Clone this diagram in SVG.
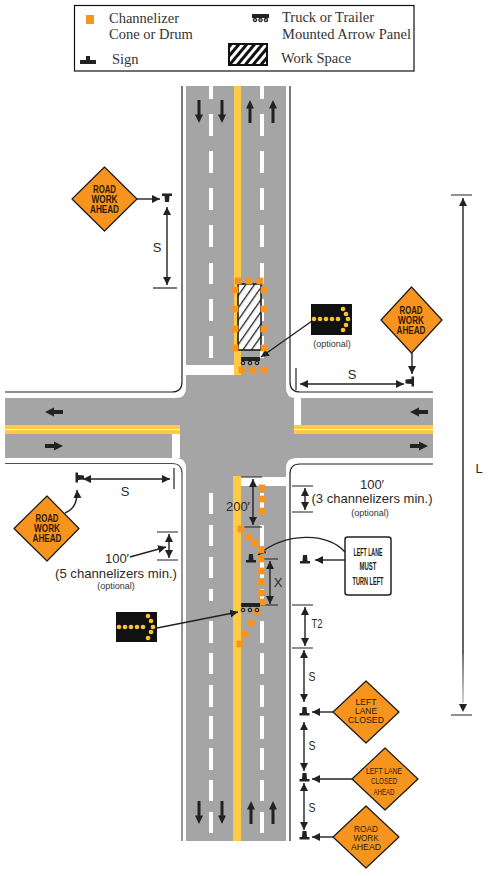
<svg xmlns="http://www.w3.org/2000/svg" width="492" height="876" viewBox="0 0 492 876">
<style>
.ser{font-family:"Liberation Serif","Times New Roman",serif;font-size:14.5px;fill:#333}
.lab{font-family:"Liberation Sans",Arial,sans-serif;font-size:13px;fill:#2a2a2a;text-anchor:middle}
.opt{font-family:"Liberation Sans",Arial,sans-serif;font-size:9px;fill:#333;text-anchor:middle}
.sb{font-family:"Liberation Sans",Arial,sans-serif;font-size:10px;font-weight:bold;fill:#2a1a08;text-anchor:middle}
.sr{font-family:"Liberation Sans",Arial,sans-serif;font-size:9px;fill:#2a1a08;text-anchor:middle}
.dia{fill:#F7941E;stroke:#1a1a1a;stroke-width:1.2;stroke-linejoin:round}
.c{fill:#F7941E}
.w{fill:#fff}
.y{fill:#FFCB47}
.k{fill:#222}
.conn{fill:none;stroke:#222;stroke-width:1.4}
.a2{marker-start:url(#h);marker-end:url(#h)}
.a1{marker-end:url(#h)}
.tick{fill:none;stroke:#222;stroke-width:1.2}
.curb{fill:none;stroke:#222;stroke-width:1.2}
.dot{fill:#F9C432}
.wheel{fill:#999;stroke:#111;stroke-width:1}
</style>
<defs>
<marker id="h" markerUnits="userSpaceOnUse" markerWidth="10" markerHeight="10" refX="8" refY="4" orient="auto-start-reverse"><path d="M0 0L8 4L0 8Z" fill="#222"/></marker>
<linearGradient id="fade" gradientUnits="userSpaceOnUse" x1="0" y1="653" x2="0" y2="703"><stop offset="0" stop-color="#333"/><stop offset="1" stop-color="#c0c0c0"/></linearGradient>
<pattern id="hatch" width="7" height="7" patternUnits="userSpaceOnUse" patternTransform="rotate(35)"><rect width="7" height="7" fill="#fff"/><rect width="1.3" height="7" fill="#222"/></pattern>
<pattern id="hatchL" width="6" height="6" patternUnits="userSpaceOnUse" patternTransform="rotate(40)"><rect width="6" height="6" fill="#fff"/><rect width="3" height="6" fill="#111"/></pattern>
<path id="ld" class="k" d="M-1.500-11.500H1.500V3H4L0 11.500L-4 3H-1.500Z"/>
<path id="lh" class="k" d="M9-2H0V-4.500L-9 0L0 4.500V2H9Z"/>
<path id="sg" class="k" d="M-2-6H2L2.500 0H5V2.500H-5V0H-2.500Z"/>
<rect id="cn" class="c" x="-3.400" y="-3.400" width="6.800" height="6.800"/>
</defs>

<g id="road">
<path fill="#A5A5A5" d="M186 86H286V388Q286 398 296 398H433V458H296Q286 458 286 468V841H186V468Q186 458 176 458H5V398H176Q186 398 186 388Z"/>
<path class="curb" d="M182 86V382Q182 392 172 392H5"/>
<path class="curb" d="M290 86V382Q290 392 300 392H433"/>
<path class="curb" d="M5 463.500H172Q182 463.500 182 473.500V841" stroke-opacity=".8"/>
<path class="curb" d="M433 464H300Q290 464 290 474V841"/>
<rect class="w" x="186" y="365" width="48" height="10"/>
<rect class="w" x="241" y="477" width="45" height="9"/>
<rect class="w" x="172" y="434" width="8" height="24"/>
<rect class="w" x="294" y="398" width="7" height="27"/>
<rect class="y" x="234" y="86" width="7" height="289"/>
<rect class="y" x="233" y="476" width="8" height="365"/>
<rect class="y" x="5" y="425" width="175" height="9"/>
<rect class="y" x="294" y="425" width="139" height="9"/>
<path stroke="#FFF3D0" stroke-width="1" d="M5 429.500H180M294 429.500H433"/>
<path stroke="#fff" stroke-width="4" fill="none" d="M211 86V99M211 114V136M211 151V173M211 188V210M211 225V247M211 263V284M211 299V321M211 336V358M262 86V99M262 114V136M262 151V173M262 188V210M262 225V247M262 263V284M262 299V321M262 336V358"/>
<path stroke="#fff" stroke-width="4" fill="none" d="M211 493V514M211 525V546M211 557V578M211 589V601M211 621V643M211 653V674M211 685V707M211 716V739M211 748V770M211 780V801M211 812V833M262 493V514M262 525V546M262 557V578M262 589V601M262 621V643M262 653V674M262 685V707M262 716V739M262 748V770M262 780V801M262 812V833"/>
<use href="#ld" x="199" y="111.500"/><use href="#ld" x="222" y="111.500"/>
<use href="#ld" transform="translate(250 111.500) rotate(180)"/><use href="#ld" transform="translate(273 111.500) rotate(180)"/>
<use href="#ld" x="199" y="812.500"/><use href="#ld" x="222" y="812.500"/>
<use href="#ld" transform="translate(251 812.500) rotate(180)"/><use href="#ld" transform="translate(273 812.500) rotate(180)"/>
<use href="#lh" x="54" y="412"/><use href="#lh" transform="translate(54 446) rotate(180)"/>
<use href="#lh" x="419" y="412"/><use href="#lh" transform="translate(419 446) rotate(180)"/>
</g>

<g id="legend">
<rect x="74.500" y="5.500" width="339.500" height="65.500" fill="#fff" stroke="#111" stroke-width="1.200"/>
<rect class="c" x="86" y="15" width="8" height="9"/>
<text class="ser" x="109" y="23">Channelizer</text>
<text class="ser" x="109" y="39">Cone or Drum</text>
<path class="k" d="M80 64V60H86V56H90V60H96V64Z"/>
<text class="ser" x="112" y="64">Sign</text>
<rect class="k" x="252" y="14" width="17" height="4"/>
<circle class="wheel" cx="255" cy="20" r="1.800"/><circle class="wheel" cx="260.500" cy="20" r="1.800"/><circle class="wheel" cx="266" cy="20" r="1.800"/>
<text class="ser" x="282" y="22" textLength="92">Truck or Trailer</text>
<text class="ser" x="282" y="39" textLength="129">Mounted Arrow Panel</text>
<rect x="229" y="44" width="38" height="21" fill="url(#hatchL)" stroke="#111" stroke-width="2"/>
<text class="ser" x="281" y="63">Work Space</text>
</g>

<g id="connectors">
<path class="conn a1" d="M137 199H160"/>
<path class="conn a2" d="M167 207V285"/>
<path class="tick" d="M153 288H177"/>
<path class="conn a1" d="M412 353V374"/>
<path class="conn a2" d="M300 384H404"/>
<path class="tick" d="M296 368V390"/>
<path class="conn a1" d="M312 321L261 357"/>
<path class="conn a2" d="M83 479H170"/>
<path class="tick" d="M174 468V489"/>
<path class="conn a1" d="M65 513Q78 508 77 490"/>
<path class="tick" d="M157 532H178M157 560H178"/>
<path class="conn a2" d="M169 534V558"/>
<path class="conn a1" d="M130 557L166 547"/>
<path class="conn a1" d="M157 628L238 612"/>
<path class="tick" d="M241 477H262M241 527H262"/>
<path class="conn a2" d="M253 479V525"/>
<path class="conn a1" d="M345 552C328 532 285 532 258 555"/>
<path class="conn a1" d="M345 560H315"/>
<path class="tick" d="M262 559H278M241 605H278"/>
<path class="conn a2" d="M270 561V604"/>
<path class="tick" d="M292 486H313M292 512H313"/>
<path class="conn a2" d="M305 488V510"/>
<path class="tick" d="M292 605H313M292 648H313"/>
<path class="conn a2" d="M305 607V646"/>
<path class="conn a2" d="M304 650V702"/>
<path class="conn a1" d="M333 712H312"/>
<path class="conn a2" d="M304 722V771"/>
<path class="conn a1" d="M352 779H312"/>
<path class="conn a2" d="M304 783V830"/>
<path class="conn a1" d="M333 837H312"/>
<path class="tick" d="M451 195H472M451 715H472"/>
<path fill="none" stroke="#222" stroke-width="1.400" marker-start="url(#h)" d="M463 198V653"/>
<path fill="none" stroke="url(#fade)" stroke-width="1.400" d="M463 653H463.010V703"/>
<path fill="#222" d="M459 704H467L463 712Z"/>
</g>

<g id="labels">
<text class="lab" x="157" y="252">S</text>
<text class="lab" x="352" y="379">S</text>
<text class="lab" x="125" y="496">S</text>
<text class="lab" x="117" y="563">100′</text>
<text class="lab" x="116" y="578" textLength="122" lengthAdjust="spacingAndGlyphs">(5 channelizers min.)</text>
<text class="opt" x="116" y="589">(optional)</text>
<text class="opt" x="332" y="347">(optional)</text>
<text class="lab" x="238" y="511">200′</text>
<text class="lab" x="372" y="489">100′</text>
<text class="lab" x="372" y="503" textLength="121" lengthAdjust="spacingAndGlyphs">(3 channelizers min.)</text>
<text class="opt" x="370" y="516">(optional)</text>
<text class="lab" x="278" y="587">X</text>
<text class="lab" x="317" y="628" textLength="11" lengthAdjust="spacingAndGlyphs">T2</text>
<text class="lab" x="312" y="681" textLength="7" lengthAdjust="spacingAndGlyphs">S</text>
<text class="lab" x="312" y="750" textLength="7" lengthAdjust="spacingAndGlyphs">S</text>
<text class="lab" x="312" y="812" textLength="7" lengthAdjust="spacingAndGlyphs">S</text>
<text class="lab" x="479" y="473">L</text>
</g>

<g id="work-space"><rect x="238" y="284" width="23" height="66" fill="url(#hatch)" stroke="#111" stroke-width="1.500"/></g>

<g id="channelizers-work-space">
<use href="#cn" x="238" y="281"/><use href="#cn" x="249" y="281"/><use href="#cn" x="260" y="281"/>
<use href="#cn" x="235" y="290"/><use href="#cn" x="235" y="309"/><use href="#cn" x="235" y="329"/><use href="#cn" x="235" y="348"/>
<use href="#cn" x="264" y="290"/><use href="#cn" x="264" y="309"/><use href="#cn" x="264" y="329"/><use href="#cn" x="264" y="348"/>
<use href="#cn" x="242" y="370"/><use href="#cn" x="253" y="370"/><use href="#cn" x="264" y="370"/>
</g>

<g id="channelizers-taper">
<use href="#cn" x="262" y="488"/><use href="#cn" x="262" y="499"/><use href="#cn" x="262" y="511"/>
<use href="#cn" x="241" y="529"/><use href="#cn" x="249" y="537"/><use href="#cn" x="255" y="543"/><use href="#cn" x="261" y="550"/>
<use href="#cn" x="261" y="559"/><use href="#cn" x="261" y="571"/><use href="#cn" x="261" y="582"/><use href="#cn" x="261" y="593"/><use href="#cn" x="262" y="602"/>
<use href="#cn" x="257" y="612"/><use href="#cn" x="251" y="623"/><use href="#cn" x="245" y="634"/><use href="#cn" x="240" y="644"/>
</g>

<g id="truck-upper">
<rect class="k" x="241" y="357" width="19" height="4"/>
<circle class="wheel" cx="243" cy="363" r="1.800"/><circle class="wheel" cx="250" cy="363" r="1.800"/><circle class="wheel" cx="257" cy="363" r="1.800"/>
</g>
<g id="truck-lower">
<rect class="k" x="241" y="603" width="19" height="4"/>
<circle class="wheel" cx="243" cy="610" r="1.800"/><circle class="wheel" cx="250" cy="610" r="1.800"/><circle class="wheel" cx="257" cy="610" r="1.800"/>
</g>

<g id="arrow-panel-upper">
<rect x="311" y="304" width="41" height="31" fill="#111"/>
<g class="dot"><circle cx="314" cy="319" r="2.300"/><circle cx="320" cy="319" r="2.300"/><circle cx="326" cy="319" r="2.300"/><circle cx="332" cy="319" r="2.300"/><circle cx="338" cy="319" r="2.300"/><circle cx="343" cy="309" r="2.300"/><circle cx="346" cy="314" r="2.300"/><circle cx="348" cy="319" r="2.300"/><circle cx="346" cy="325" r="2.300"/><circle cx="343" cy="330" r="2.300"/></g>
</g>
<g id="arrow-panel-lower">
<rect x="116" y="612" width="41" height="30" fill="#111"/>
<g class="dot"><circle cx="119" cy="627" r="2.300"/><circle cx="125" cy="627" r="2.300"/><circle cx="131" cy="627" r="2.300"/><circle cx="137" cy="627" r="2.300"/><circle cx="143" cy="627" r="2.300"/><circle cx="148" cy="616" r="2.300"/><circle cx="151" cy="621" r="2.300"/><circle cx="153" cy="627" r="2.300"/><circle cx="151" cy="632" r="2.300"/><circle cx="148" cy="638" r="2.300"/></g>
</g>

<g id="sign-nw"><path class="dia" d="M104.500 167L137 199L104.500 231L72 199Z"/>
<text class="sb" x="104.500" y="192.500" textLength="23" lengthAdjust="spacingAndGlyphs">ROAD</text><text class="sb" x="104.500" y="202.800" textLength="26" lengthAdjust="spacingAndGlyphs">WORK</text><text class="sb" x="104.500" y="212.800" textLength="29" lengthAdjust="spacingAndGlyphs">AHEAD</text></g>
<g id="sign-ne"><path class="dia" d="M411.500 287L442 320L411.500 353L381 320Z"/>
<text class="sb" x="411" y="313.500" textLength="23" lengthAdjust="spacingAndGlyphs">ROAD</text><text class="sb" x="411" y="323.800" textLength="26" lengthAdjust="spacingAndGlyphs">WORK</text><text class="sb" x="411" y="334" textLength="29" lengthAdjust="spacingAndGlyphs">AHEAD</text></g>
<g id="sign-sw"><path class="dia" d="M47 496L79 528.500L47 561L14 528.500Z"/>
<text class="sb" x="47" y="521.500" textLength="23" lengthAdjust="spacingAndGlyphs">ROAD</text><text class="sb" x="47" y="531.800" textLength="26" lengthAdjust="spacingAndGlyphs">WORK</text><text class="sb" x="47" y="541.800" textLength="29" lengthAdjust="spacingAndGlyphs">AHEAD</text></g>
<g id="sign-left-lane-closed"><path class="dia" d="M366 681L399 712L366 743L333 712Z"/>
<text class="sr" x="366" y="704.500" textLength="21" lengthAdjust="spacingAndGlyphs">LEFT</text><text class="sr" x="366" y="713.500" textLength="22" lengthAdjust="spacingAndGlyphs">LANE</text><text class="sr" x="366" y="722.500" textLength="36" lengthAdjust="spacingAndGlyphs">CLOSED</text></g>
<g id="sign-left-lane-closed-ahead"><path class="dia" d="M385 748L418 779L385 810L352 779Z"/>
<text class="sr" x="384" y="773.500" textLength="36" lengthAdjust="spacingAndGlyphs">LEFT LANE</text><text class="sr" x="384" y="784" textLength="26" lengthAdjust="spacingAndGlyphs">CLOSED</text><text class="sr" x="384" y="795" textLength="21" lengthAdjust="spacingAndGlyphs">AHEAD</text></g>
<g id="sign-road-work-ahead-south"><path class="dia" d="M366 806L399 837L366 868L333 837Z"/>
<text class="sr" x="366" y="831.500" textLength="24" lengthAdjust="spacingAndGlyphs">ROAD</text><text class="sr" x="366" y="840.500" textLength="25" lengthAdjust="spacingAndGlyphs">WORK</text><text class="sr" x="366" y="849.500" textLength="30" lengthAdjust="spacingAndGlyphs">AHEAD</text></g>
<g id="sign-must-turn"><rect x="345" y="537" width="46" height="58" rx="2.500" fill="#fff" stroke="#222" stroke-width="1.500"/>
<text class="sb" x="368" y="555.500" textLength="29" lengthAdjust="spacingAndGlyphs">LEFT LANE</text><text class="sb" x="368" y="569.500" textLength="17" lengthAdjust="spacingAndGlyphs">MUST</text><text class="sb" x="368" y="584.500" textLength="31" lengthAdjust="spacingAndGlyphs">TURN LEFT</text></g>

<g id="sign-posts">
<use href="#sg" transform="translate(167 199) rotate(180) translate(0 3)"/>
<use href="#sg" transform="translate(412 381.500) rotate(-90) translate(0 -.500)"/>
<use href="#sg" transform="translate(77 477.500) rotate(90) translate(0 -1)"/>
<use href="#sg" x="251" y="560"/>
<use href="#sg" x="305" y="561"/>
<use href="#sg" x="304.500" y="713"/>
<use href="#sg" x="304.500" y="779"/>
<use href="#sg" x="304.500" y="837"/>
</g>
</svg>
